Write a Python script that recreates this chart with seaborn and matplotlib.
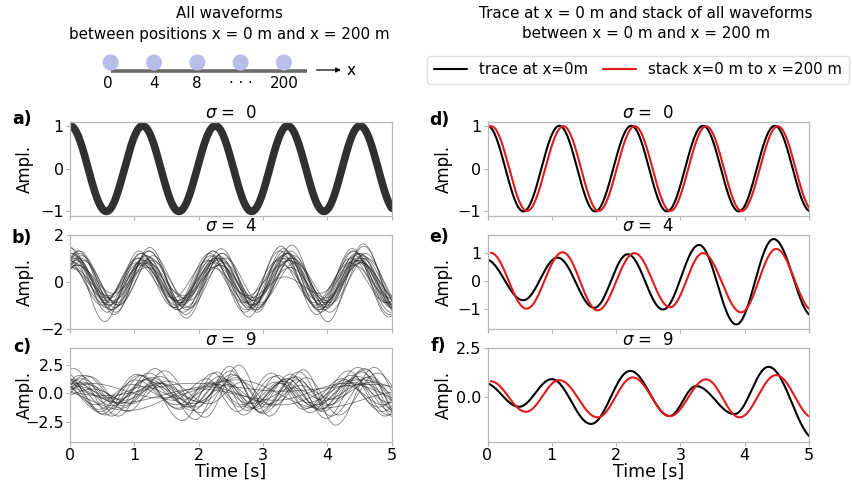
import numpy as np
import pandas as pd
import matplotlib
matplotlib.use("Agg")
import matplotlib.pyplot as plt
import seaborn as sns
from matplotlib.lines import Line2D

sns.set_theme(style="white")
plt.rcParams["font.family"] = ["DejaVu Sans"]
plt.rcParams["axes.edgecolor"] = "#b8b8b8"
plt.rcParams["axes.linewidth"] = 0.9
plt.rcParams["text.color"] = "black"
plt.rcParams["axes.labelcolor"] = "black"
plt.rcParams["xtick.labelcolor"] = "black"
plt.rcParams["ytick.labelcolor"] = "black"

# ---------------------------------------------------------------- data
sigma_levels = [0, 4, 9]
panel_letters_left = ["a)", "b)", "c)"]
panel_letters_right = ["d)", "e)", "f)"]
receiver_labels = ["0", "4", "8", "· · ·", "200"]
time_ticks = [0, 1, 2, 3, 4, 5]

# Each waveform is stored as its successive extrema: (time [s], amplitude).
# sigma = 0: every waveform is identical
a_times = [-0.565, 0.0, 0.565, 1.13, 1.695, 2.26, 2.825, 3.385, 3.95, 4.51, 5.075, 5.64]
a_values = [-1, 1, -1, 1, -1, 1, -1, 1, -1, 1, -1, 1]

# sigma = 4: bundle of waveforms, extrema times = b_base_times + per-trace shift
b_base_times = [-0.5, 0.06, 0.62, 1.15, 1.72, 2.27, 2.82, 3.36, 3.92, 4.47, 5.04, 5.6]
b_shifts = [0.00, -0.05, 0.06, -0.08, 0.03, 0.09, -0.03, 0.02, -0.10, 0.12, -0.04,
            0.05, -0.07, 0.08, 0.00, -0.12, 0.04, 0.14, -0.02, 0.10, -0.06, 0.07]
b_values = [
    [-1.0, 1.0, -1.0, 1.0, -1.0, 1.0, -1.0, 1.0, -1.0, 1.0, -1.0, 1.0],
    [-0.9, 1.2, -1.1, 1.2, -1.2, 1.3, -1.1, 1.1, -1.2, 1.3, -1.3, 1.2],
    [-0.7, 0.7, -0.8, 0.8, -0.7, 0.7, -0.7, 0.6, -0.8, 0.8, -0.8, 0.8],
    [-1.2, 1.5, -1.7, 1.3, -1.1, 1.1, -1.2, 1.5, -1.4, 1.4, -1.5, 1.4],
    [-0.8, 0.9, -0.9, 0.9, -0.9, 1.0, -0.8, 0.9, -0.9, 0.9, -1.0, 0.9],
    [-1.0, 1.3, -1.3, 1.45, -1.55, 1.2, -1.3, 1.55, -1.7, 1.6, -1.6, 1.5],
    [-0.6, 0.6, -0.6, 0.7, -0.8, 0.8, -0.7, 0.2, -0.5, 0.9, -1.0, 1.0],
    [-1.1, 1.1, -1.2, 1.1, -1.0, 0.9, -1.0, 1.2, -1.1, 1.2, -1.2, 1.1],
    [-0.9, 0.8, -0.9, 1.0, -1.1, 1.2, -1.3, 1.3, -1.0, 1.0, -0.9, 1.0],
    [-0.8, 1.1, -1.0, 0.9, -0.8, 0.8, -1.0, 1.1, -1.3, 1.2, -1.2, 1.1],
    [-1.3, 1.4, -1.3, 1.2, -1.2, 1.3, -1.5, 1.4, -1.2, 1.1, -1.1, 1.2],
    [-0.5, 0.7, -0.5, 0.6, -0.6, 0.7, -0.8, 0.9, -0.7, 0.8, -0.7, 0.8],
    [-1.0, 0.9, -0.8, 1.0, -1.0, 0.9, -0.9, 1.0, -1.1, 1.3, -1.4, 1.3],
    [-1.2, 1.2, -1.1, 1.3, -1.4, 1.4, -1.2, 1.0, -0.9, 1.1, -1.0, 1.0],
    [-0.7, 0.8, -0.7, 0.8, -0.9, 1.0, -1.1, 1.2, -1.0, 0.9, -0.8, 0.9],
    [-1.1, 1.0, -1.0, 0.8, -0.7, 0.9, -0.9, 0.9, -0.9, 0.8, -0.9, 0.9],
    [-0.9, 1.0, -1.2, 1.1, -1.3, 1.1, -1.0, 1.2, -1.2, 1.2, -1.3, 1.2],
    [-0.6, 0.9, -1.0, 1.1, -1.1, 1.0, -0.9, 0.8, -0.9, 1.0, -1.1, 1.0],
    [-1.0, 1.2, -1.0, 0.9, -0.9, 1.1, -1.2, 1.3, -1.3, 1.2, -1.1, 1.0],
    [-1.1, 1.0, -0.9, 1.0, -1.2, 1.2, -1.1, 1.0, -1.0, 1.5, -1.5, 1.4],
    [-0.8, 0.6, -0.7, 0.8, -0.8, 0.6, -0.6, 0.7, -0.8, 0.7, -0.7, 0.7],
    [-1.2, 1.3, -1.4, 1.3, -1.1, 1.0, -1.2, 1.3, -1.1, 1.0, -1.2, 1.1],
]

# sigma = 9: wider spread in timing and amplitude
c_base_times = [-0.5, 0.05, 0.65, 1.22, 1.85, 2.38, 2.85, 3.38, 3.88, 4.48, 5.05, 5.6]
c_shifts = [0.00, -0.15, 0.20, 0.10, -0.08, 0.25, -0.20, 0.05, 0.15,
            -0.10, 0.30, -0.25, 0.00, 0.08, -0.05, 0.18, -0.18, 0.12]
c_values = [
    [-1.0, 1.2, -1.1, 1.3, -1.2, 1.3, -1.3, 1.3, -1.4, 1.5, -1.5, 1.4],
    [-1.5, 2.0, -1.8, 1.6, -1.4, 1.8, -1.9, 1.6, -1.7, 2.0, -2.0, 1.8],
    [-0.5, 0.8, -0.6, 0.9, -0.8, 1.4, -1.0, 0.7, -0.5, 1.0, -0.9, 0.9],
    [-1.8, 1.6, -2.0, 2.2, -2.3, 2.4, -1.6, 1.4, -2.2, 2.2, -2.1, 2.0],
    [-0.6, 0.5, -0.4, 0.6, -0.5, 0.8, -0.9, 1.1, -1.2, 1.0, -0.8, 0.9],
    [-1.2, 1.5, -1.6, 2.0, -2.1, 2.5, -2.0, 2.1, -2.8, 2.3, -2.2, 2.0],
    [-0.8, 1.8, -1.4, 1.2, -1.0, 1.0, -1.2, 1.5, -1.3, 1.2, -1.6, 1.3],
    [-1.1, 0.9, -0.8, 1.4, -1.5, 1.2, -1.4, 1.7, -1.6, 1.9, -1.8, 1.6],
    [-0.7, 1.0, -1.3, 0.9, -0.7, 1.7, -1.8, 1.2, -1.0, 1.4, -1.3, 1.2],
    [-1.3, 1.4, -1.9, 1.6, -2.4, 1.9, -1.5, 0.9, -1.1, 1.6, -1.9, 1.5],
    [-0.4, 0.4, -0.9, 1.1, -0.9, 1.0, -1.1, 1.4, -1.9, 1.8, -1.5, 1.4],
    [-1.0, 1.3, -1.0, 0.8, -0.6, 1.3, -1.6, 1.8, -1.4, 1.3, -1.2, 1.1],
    [-0.9, 2.2, -2.0, 1.8, -1.2, 1.1, -0.9, 1.3, -1.5, 2.3, -2.1, 1.9],
    [-1.6, 0.6, -0.5, 0.7, -0.9, 0.8, -0.7, 0.5, -0.6, 0.9, -0.8, 0.7],
    [-1.2, 1.1, -1.4, 1.2, -1.0, 1.5, -1.3, 1.1, -1.0, 1.3, -1.6, 1.4],
    [-0.9, 1.6, -1.1, 1.5, -1.7, 1.6, -1.2, 1.9, -2.0, 1.5, -1.4, 1.2],
    [-0.5, 0.9, -1.6, 1.7, -1.3, 0.9, -1.0, 1.0, -0.8, 0.7, -1.0, 0.9],
    [-1.4, 1.3, -0.9, 1.0, -1.2, 2.0, -1.7, 1.5, -1.1, 2.1, -2.2, 1.9],
]
# slower waveforms in the sigma = 9 bundle (own extrema times)
c_slow_times = [
    [-0.3, 0.9, 2.1, 3.3, 4.5, 5.7],
    [-0.8, 0.5, 1.9, 3.3, 4.7, 6.0],
    [-0.4, 0.8, 2.0, 3.2, 4.3, 5.4],
    [-0.7, 0.3, 1.4, 2.6, 3.9, 5.2],
]
c_slow_values = [
    [0.4, -1.5, 0.6, -1.0, 1.2, -0.6],
    [1.0, -0.2, 0.9, 0.2, 0.8, -0.6],
    [1.6, -0.8, 0.4, -0.6, 0.9, -0.9],
    [-0.8, 0.9, -0.4, 1.2, -1.3, 0.2],
]

# trace at x = 0 m (black) and stack of all waveforms (red)
d_trace_times = [-0.558, 0.0, 0.558, 1.117, 1.675, 2.236, 2.792, 3.352, 3.909, 4.468, 5.026, 5.585]
d_trace_values = [-1, 1, -1, 1, -1, 1, -1, 1, -1, 1, -1, 1]
d_stack_times = [-0.5, 0.06, 0.615, 1.18, 1.73, 2.29, 2.845, 3.40, 3.955, 4.515, 5.07, 5.63]
d_stack_values = [-0.99, 0.99, -0.99, 0.99, -0.99, 0.99, -0.99, 0.99, -0.99, 0.99, -0.99, 0.99]

e_trace_times = [-0.03, 0.556, 1.09, 1.66, 2.18, 2.73, 3.29, 3.87, 4.45, 5.06]
e_trace_values = [0.76, -0.69, 0.82, -0.96, 0.94, -1.02, 1.27, -1.55, 1.48, -1.26]
e_stack_times = [0.05, 0.607, 1.168, 1.713, 2.285, 2.84, 3.35, 3.946, 4.49, 5.06]
e_stack_values = [0.99, -0.99, 1.01, -1.05, 0.98, -0.94, 0.98, -1.12, 1.13, -1.05]

f_trace_times = [-0.05, 0.49, 1.0, 1.61, 2.22, 2.83, 3.245, 3.84, 4.37, 5.1]
f_trace_values = [0.72, -0.52, 0.91, -1.41, 1.34, -1.0, 0.55, -0.9, 1.55, -2.2]
f_stack_times = [0.05, 0.597, 1.116, 1.713, 2.259, 2.84, 3.40, 3.92, 4.49, 5.07]
f_stack_values = [0.80, -0.78, 0.86, -1.07, 1.0, -1.0, 0.9, -1.07, 1.12, -1.1]

trace_color = "black"
stack_color = "#e31a1c"


# ---------------------------------------------------------------- helpers
def waveform(times, values, step=0.005):
    """Smooth waveform through successive extrema (half-cosine between them)."""
    ts, ys = [], []
    for t0, v0, t1, v1 in zip(times[:-1], values[:-1], times[1:], values[1:]):
        n = max(int((t1 - t0) / step), 2)
        s = np.linspace(0.0, 1.0, n, endpoint=False)
        ts.append(t0 + (t1 - t0) * s)
        ys.append(v0 + (v1 - v0) * (1 - np.cos(np.pi * s)) / 2)
    ts.append([times[-1]])
    ys.append([values[-1]])
    return np.concatenate(ts), np.concatenate(ys)


def bundle_frame(base_times, shifts, values, extra_times=(), extra_values=()):
    rows = []
    k = 0
    for sh, vals in zip(shifts, values):
        t, y = waveform([bt + sh for bt in base_times], vals)
        rows.append(pd.DataFrame({"time": t, "ampl": y, "trace": k}))
        k += 1
    for tt, vv in zip(extra_times, extra_values):
        t, y = waveform(tt, vv)
        rows.append(pd.DataFrame({"time": t, "ampl": y, "trace": k}))
        k += 1
    return pd.concat(rows, ignore_index=True)


def single_frame(times, values):
    t, y = waveform(times, values)
    return pd.DataFrame({"time": t, "ampl": y})


# ---------------------------------------------------------------- figure
fig, axes = plt.subplots(3, 2, figsize=(8.52, 4.88), dpi=100)
fig.subplots_adjust(left=0.0822, right=0.9495, top=0.751, bottom=0.0949,
                    wspace=0.2986, hspace=0.2)

# left column: all waveforms
ax = axes[0, 0]
sns.lineplot(data=single_frame(a_times, a_values), x="time", y="ampl",
             color="#303030", lw=5.5, ax=ax)
ax = axes[1, 0]
sns.lineplot(data=bundle_frame(b_base_times, b_shifts, b_values), x="time", y="ampl",
             units="trace", estimator=None, color="#2a2a2a", lw=0.6, alpha=0.6, ax=ax)
ax = axes[2, 0]
sns.lineplot(data=bundle_frame(c_base_times, c_shifts, c_values, c_slow_times, c_slow_values),
             x="time", y="ampl", units="trace", estimator=None, color="#2a2a2a",
             lw=0.6, alpha=0.6, ax=ax)

# right column: trace at x = 0 m and stack
pairs = [(d_trace_times, d_trace_values, d_stack_times, d_stack_values),
         (e_trace_times, e_trace_values, e_stack_times, e_stack_values),
         (f_trace_times, f_trace_values, f_stack_times, f_stack_values)]
for ax, (tt, tv, st, sv) in zip(axes[:, 1], pairs):
    sns.lineplot(data=single_frame(tt, tv), x="time", y="ampl", color=trace_color, lw=1.5, ax=ax)
    sns.lineplot(data=single_frame(st, sv), x="time", y="ampl", color=stack_color, lw=1.5, ax=ax)

# y ranges
axes[0, 0].set_ylim(-1.1, 1.1)
axes[1, 0].set_ylim(-2.0, 2.0)
axes[2, 0].set_ylim(-4.26, 4.06)
axes[0, 1].set_ylim(-1.1, 1.1)
axes[1, 1].set_ylim(-1.7, 1.64)
axes[2, 1].set_ylim(-2.33, 2.55)
for ax in (axes[0, 0], axes[0, 1], axes[1, 1]):
    ax.set_yticks([-1, 0, 1])
axes[1, 0].set_yticks([-2, 0, 2])
axes[2, 0].set_yticks([-2.5, 0.0, 2.5])
axes[2, 1].set_yticks([0.0, 2.5])
axes[2, 0].set_yticklabels(["−2.5", "0.0", "2.5"])
axes[2, 1].set_yticklabels(["0.0", "2.5"])

for r in range(3):
    for c in range(2):
        ax = axes[r, c]
        ax.set_xlim(0, 5)
        ax.set_xticks(time_ticks)
        ax.tick_params(axis="both", which="major", labelsize=11.5, length=3, width=0.8,
                       color="#b0b0b0", pad=1.5, direction="out", bottom=True, left=True)
        ax.set_title(f"$\\sigma$ =  {sigma_levels[r]}", fontsize=12, pad=2)
        ax.set_ylabel("Ampl.", fontsize=12)
        ax.yaxis.set_label_coords(-0.113 if c == 0 else -0.108, 0.5)
        if r < 2:
            ax.set_xticklabels([])
            ax.set_xlabel("")
        else:
            ax.set_xlabel("Time [s]", fontsize=12.5, labelpad=0)
        for sp in ax.spines.values():
            sp.set_visible(True)
            sp.set_color("#b8b8b8")

# panel letters
W, H = 852.0, 488.0
for (lx, ly), lab in zip([(22, 119), (22, 238), (22, 347)], panel_letters_left):
    fig.text(lx / W, 1 - ly / H, lab, ha="center", va="center", fontsize=12.5, fontweight="bold")
for (lx, ly), lab in zip([(439, 120), (439, 237), (438, 346)], panel_letters_right):
    fig.text(lx / W, 1 - ly / H, lab, ha="center", va="center", fontsize=12.5, fontweight="bold")

# header titles
fig.text(229 / W, 1 - 14 / H, "All waveforms", ha="center", va="center", fontsize=10.9)
fig.text(229 / W, 1 - 34 / H, "between positions x = 0 m and x = 200 m",
         ha="center", va="center", fontsize=10.9)
fig.text(646 / W, 1 - 14 / H, "Trace at x = 0 m and stack of all waveforms",
         ha="center", va="center", fontsize=10.9)
fig.text(646 / W, 1 - 34 / H, "between x = 0 m and x = 200 m",
         ha="center", va="center", fontsize=10.9)

# receiver line sketch
sk = fig.add_axes([100 / W, 1 - 95 / H, 260 / W, 45 / H])
sk.set_xlim(-0.247, 5.757)
sk.set_ylim(-95, -50)
sk.axis("off")
idx = np.arange(len(receiver_labels))
sk.plot([0, 4.53], [-71, -71], color="#6a6a6a", lw=2.6, solid_capstyle="butt", zorder=1)
sns.scatterplot(x=idx, y=np.full(len(idx), -62.5), s=135, color="#b9bde9",
                edgecolor="none", ax=sk, zorder=2, legend=False)
for i, lab in zip(idx, receiver_labels):
    sk.text(i - (0.06 if i == 0 else 0), -84, lab, ha="center", va="center", fontsize=10.9)
sk.annotate("", xy=(5.38, -70), xytext=(4.69, -70),
            arrowprops=dict(arrowstyle="-|>", color="black", lw=0.9, mutation_scale=7))
sk.text(5.55, -70.5, "x", ha="center", va="center", fontsize=11)

# legend
handles = [Line2D([], [], color=trace_color, lw=1.5), Line2D([], [], color=stack_color, lw=1.5)]
fig.legend(handles, ["trace at x=0m", "stack x=0 m to x =200 m"], loc="center",
           bbox_to_anchor=(638 / W, 1 - 70 / H), ncol=2, fontsize=10.8, frameon=True,
           handlelength=2.2, columnspacing=1.0, handletextpad=0.8, borderpad=0.45,
           edgecolor="#d8d8d8", fancybox=True)

fig.savefig("out.png", dpi=100)
